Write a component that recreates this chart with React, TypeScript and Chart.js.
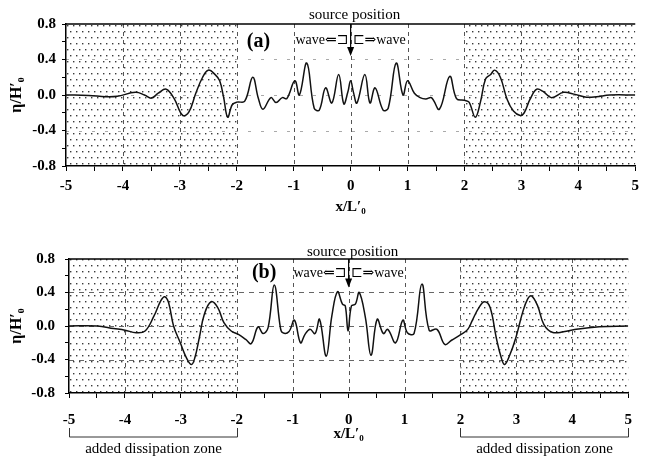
import React, { useEffect, useRef } from 'react';
import { Chart, registerables } from 'chart.js';

Chart.register(...registerables);

// ---- data ----
const panelAX = [-5.0, -4.6, -4.3, -4.1, -3.78, -3.62, -3.5, -3.38, -3.24, -3.1, -2.95, -2.84, -2.72, -2.6, -2.5, -2.38, -2.3, -2.23, -2.16, -2.08, -2.0, -1.86, -1.72, -1.62, -1.54, -1.4, -1.31, -1.2, -1.12, -0.98, -0.9, -0.77, -0.64, -0.55, -0.44, -0.33, -0.21, -0.12, -0.05, 0.0, 0.05, 0.11, 0.25, 0.34, 0.43, 0.57, 0.66, 0.8, 0.92, 1.0, 1.12, 1.22, 1.32, 1.42, 1.56, 1.74, 1.86, 2.0, 2.08, 2.19, 2.28, 2.37, 2.46, 2.53, 2.63, 2.75, 2.86, 2.98, 3.05, 3.15, 3.27, 3.38, 3.53, 3.74, 3.92, 4.14, 4.32, 4.55, 5.0];
const panelAY = [0.0, -0.005, -0.02, -0.015, 0.03, 0.0, -0.035, 0.02, 0.065, -0.04, -0.23, -0.19, 0.02, 0.2, 0.28, 0.23, 0.16, -0.03, -0.25, -0.11, -0.08, -0.07, 0.2, -0.04, -0.16, -0.03, -0.085, -0.03, -0.04, 0.16, 0.0, 0.36, -0.15, -0.17, 0.08, -0.09, 0.23, -0.1, 0.03, 0.16, 0.03, -0.09, 0.23, -0.09, 0.08, -0.17, -0.15, 0.36, 0.0, 0.16, 0.02, -0.03, -0.045, -0.03, -0.16, 0.21, -0.04, -0.06, -0.08, -0.25, -0.08, 0.18, 0.23, 0.28, 0.2, -0.05, -0.18, -0.23, -0.2, -0.05, 0.065, 0.04, -0.03, 0.03, 0.01, -0.025, -0.02, 0.0, 0.0];

const panelBX = [-5.0, -4.5, -4.2, -4.0, -3.8, -3.64, -3.48, -3.36, -3.29, -3.22, -3.13, -3.01, -2.9, -2.81, -2.75, -2.67, -2.58, -2.46, -2.34, -2.23, -2.1, -1.97, -1.84, -1.74, -1.62, -1.53, -1.44, -1.33, -1.22, -1.18, -1.07, -0.97, -0.86, -0.78, -0.69, -0.6, -0.52, -0.4, -0.3, -0.2, -0.11, -0.06, -0.01, 0.05, 0.12, 0.19, 0.3, 0.4, 0.51, 0.62, 0.7, 0.84, 0.97, 1.05, 1.17, 1.31, 1.44, 1.58, 1.72, 1.84, 2.01, 2.13, 2.21, 2.33, 2.43, 2.53, 2.64, 2.73, 2.79, 2.88, 2.99, 3.11, 3.2, 3.27, 3.38, 3.49, 3.64, 3.84, 4.07, 4.48, 5.0];
const panelBY = [0.0, 0.0, -0.03, -0.05, -0.08, -0.06, 0.12, 0.3, 0.35, 0.28, 0.0, -0.2, -0.38, -0.46, -0.38, -0.14, 0.14, 0.29, 0.22, 0.04, -0.06, -0.1, -0.16, -0.21, -0.01, -0.09, -0.02, 0.49, -0.02, -0.08, -0.07, 0.07, -0.2, -0.1, -0.04, -0.09, 0.08, -0.36, 0.12, 0.41, 0.26, 0.24, -0.06, 0.24, 0.26, 0.4, 0.1, -0.35, 0.08, -0.09, -0.04, -0.2, 0.07, -0.08, -0.09, 0.5, -0.05, -0.04, -0.22, -0.17, -0.1, -0.04, 0.065, 0.22, 0.29, 0.22, -0.14, -0.38, -0.46, -0.35, -0.14, 0.16, 0.32, 0.36, 0.24, 0.02, -0.075, -0.07, -0.04, -0.01, 0.0];

const shadedZones = [[-5, -2], [2, 5]];
const gridXs = [-4, -3, -2, -1, 0, 1, 2, 3, 4];
const gridYs = [-0.4, 0, 0.4];
const sourceLabel = 'source position';
const waveLeft = 'wave⇐⊐';
const waveRight = '⊏⇒wave';
const zoneLabel = 'added dissipation zone';
const xTitle = 'x/L′₀';
const yTitle = 'η/H′₀';

const SERIF = "'Liberation Serif', 'Times New Roman', 'DejaVu Serif', serif";

type PanelCfg = {
  xs: number[]; ys: number[]; label: string; top: number; height: number;
  padTop: number; padRight: number; yAxisW: number; xAxisH: number;
  xTickPad: number; xTitlePad: number; yTickPad: number;
  labelX: number; labelDy: number; waveDy: number; sourceDy: number;
  arrowTip: number; bracket: boolean; sparseH: boolean;
};

const panels: PanelCfg[] = [
  { xs: panelAX, ys: panelAY, label: '(a)', top: 0, height: 228, padTop: 24, padRight: 4, yAxisW: 66, xAxisH: 62,
    xTickPad: 6, xTitlePad: 12, yTickPad: 6, labelX: -1.62, labelDy: 18, waveDy: 16, sourceDy: -9, arrowTip: 0.44, bracket: false, sparseH: true },
  { xs: panelBX, ys: panelBY, label: '(b)', top: 228, height: 229, padTop: 31, padRight: 2, yAxisW: 69, xAxisH: 64,
    xTickPad: 13, xTitlePad: 14, yTickPad: 10, labelX: -1.51, labelDy: 14, waveDy: 14, sourceDy: -7, arrowTip: 0.46, bracket: true, sparseH: false },
];

function makePattern(ctx: CanvasRenderingContext2D) {
  const c = document.createElement('canvas');
  c.width = 6; c.height = 12;
  const g = c.getContext('2d')!;
  g.fillStyle = '#3a3a3a';
  g.fillRect(1, 1, 1.4, 1.4);
  g.fillRect(4, 7, 1.4, 1.4);
  return ctx.createPattern(c, 'repeat');
}

function Panel({ cfg }: { cfg: PanelCfg }) {
  const ref = useRef<HTMLCanvasElement | null>(null);
  useEffect(() => {
    const canvas = ref.current!;
    const pattern = makePattern(canvas.getContext('2d')!);
    const deco = {
      id: 'deco',
      beforeDraw(chart: any) {
        const { ctx, chartArea: ca, scales } = chart;
        const x = scales.x, y = scales.y;
        ctx.save();
        ctx.fillStyle = pattern;
        for (const [a, b] of shadedZones) {
          const x0 = x.getPixelForValue(a), x1 = x.getPixelForValue(b);
          ctx.fillRect(x0, ca.top, x1 - x0, ca.bottom - ca.top);
        }
        ctx.lineWidth = 1;
        ctx.strokeStyle = '#555';
        ctx.setLineDash([4, 4]);
        for (const v of gridXs) {
          const px = Math.round(x.getPixelForValue(v)) + 0.5;
          ctx.beginPath(); ctx.moveTo(px, ca.top); ctx.lineTo(px, ca.bottom); ctx.stroke();
        }
        ctx.strokeStyle = cfg.sparseH ? '#aaa' : '#666';
        ctx.setLineDash(cfg.sparseH ? [3, 10] : [5, 5]);
        for (const v of gridYs) {
          const py = Math.round(y.getPixelForValue(v)) + 0.5;
          ctx.beginPath(); ctx.moveTo(ca.left, py); ctx.lineTo(ca.right, py); ctx.stroke();
        }
        ctx.restore();
      },
      afterDraw(chart: any) {
        const { ctx, chartArea: ca, scales } = chart;
        const x = scales.x, y = scales.y;
        ctx.save();
        // top frame
        ctx.strokeStyle = '#000'; ctx.lineWidth = 1.3;
        ctx.beginPath(); ctx.moveTo(ca.left, ca.top); ctx.lineTo(ca.right, ca.top); ctx.stroke();
        // arrow
        const x0 = x.getPixelForValue(0);
        const tip = y.getPixelForValue(cfg.arrowTip);
        ctx.lineWidth = 1.2;
        ctx.beginPath(); ctx.moveTo(x0, ca.top); ctx.lineTo(x0, tip - 6); ctx.stroke();
        ctx.fillStyle = '#000';
        ctx.beginPath(); ctx.moveTo(x0 - 3.5, tip - 9); ctx.lineTo(x0 + 3.5, tip - 9); ctx.lineTo(x0, tip); ctx.closePath(); ctx.fill();
        // texts
        ctx.textBaseline = 'middle';
        ctx.textAlign = 'center';
        ctx.font = `15px ${SERIF}`;
        ctx.fillText(sourceLabel, x0 + 4, ca.top + cfg.sourceDy);
        ctx.font = `14px ${SERIF}`;
        ctx.textAlign = 'right';
        ctx.fillText(waveLeft, x0 - 2, ca.top + cfg.waveDy);
        ctx.textAlign = 'left';
        ctx.fillText(waveRight, x0 + 2, ca.top + cfg.waveDy);
        ctx.textAlign = 'center';
        ctx.font = `bold 20px ${SERIF}`;
        ctx.fillText(cfg.label, x.getPixelForValue(cfg.labelX), ca.top + cfg.labelDy);
        if (cfg.bracket) {
          ctx.strokeStyle = '#333'; ctx.lineWidth = 1;
          ctx.font = `15px ${SERIF}`;
          for (const [a, b] of shadedZones) {
            const xa = Math.round(x.getPixelForValue(a)) + 0.5;
            const xb = Math.min(Math.round(x.getPixelForValue(b)) + 0.5, chart.width - 1.5);
            const yTop = ca.bottom + 35, yBot = ca.bottom + 44;
            ctx.beginPath();
            ctx.moveTo(xa, yTop); ctx.lineTo(xa, yBot); ctx.lineTo(xb, yBot); ctx.lineTo(xb, yTop);
            ctx.stroke();
            ctx.fillText(zoneLabel, (xa + xb) / 2, ca.bottom + 56);
          }
        }
        ctx.restore();
      },
    };

    const chart = new Chart(canvas, {
      type: 'line',
      data: {
        datasets: [{
          data: cfg.xs.map((v, i) => ({ x: v, y: cfg.ys[i] })),
          borderColor: '#111',
          borderWidth: 1.5,
          pointRadius: 0,
          fill: false,
          tension: 0.4,
        }],
      },
      options: {
        responsive: false,
        animation: false,
        devicePixelRatio: 1,
        layout: { padding: { top: cfg.padTop, right: cfg.padRight, left: 0, bottom: 0 } },
        plugins: { legend: { display: false }, tooltip: { enabled: false } },
        scales: {
          x: {
            type: 'linear', min: -5, max: 5,
            afterFit: (s: any) => { s.height = cfg.xAxisH; },
            grid: { drawOnChartArea: false, drawTicks: true, tickLength: 5, tickColor: '#000', tickWidth: 1 },
            border: { display: true, color: '#000', width: 1.5 },
            ticks: {
              stepSize: 0.5, autoSkip: false, maxRotation: 0, minRotation: 0, padding: cfg.xTickPad,
              color: '#000', font: { family: SERIF, size: 15, weight: 'bold' },
              callback: (v: any) => { const r = Math.round(Number(v) * 2); return r % 2 === 0 ? String(r / 2) : ''; },
            },
            title: { display: true, text: xTitle, color: '#000', font: { family: SERIF, size: 15, weight: 'bold' }, padding: { top: 0, bottom: cfg.xTitlePad } },
          },
          y: {
            type: 'linear', min: -0.8, max: 0.8,
            afterFit: (s: any) => { s.width = cfg.yAxisW; },
            grid: { drawOnChartArea: false, drawTicks: true, tickLength: 4, tickColor: '#000', tickWidth: 1 },
            border: { display: true, color: '#000', width: 1.5 },
            ticks: {
              stepSize: 0.2, autoSkip: false, padding: cfg.yTickPad,
              color: '#000', font: { family: SERIF, size: 15, weight: 'bold' },
              callback: (v: any) => { const r = Math.round(Number(v) * 10); return r % 4 === 0 ? (r / 10).toFixed(1) : ''; },
            },
            title: { display: true, text: yTitle, color: '#000', font: { family: SERIF, size: 16, weight: 'bold' }, padding: { top: 7, bottom: 0 } },
          },
        },
      },
      plugins: [deco],
    } as any);
    return () => chart.destroy();
  }, [cfg]);
  return (
    <canvas ref={ref} width={645} height={cfg.height}
      style={{ position: 'absolute', left: 0, top: cfg.top, width: 645, height: cfg.height }} />
  );
}

export default function App() {
  return (
    <div style={{ position: 'absolute', left: 0, top: 0, width: 645, height: 457, background: '#fff', overflow: 'hidden' }}>
      {panels.map((p) => <Panel key={p.label} cfg={p} />)}
    </div>
  );
}
